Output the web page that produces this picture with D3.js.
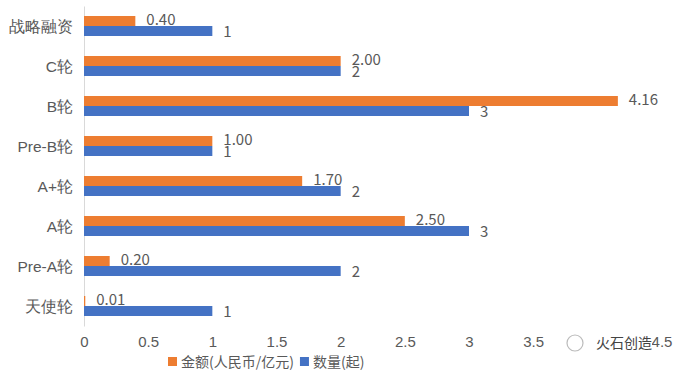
<!DOCTYPE html>
<html><head><meta charset="utf-8">
<script src="https://cdn.jsdelivr.net/npm/d3@7"></script>
<style>body{margin:0;background:#fff}svg{display:block;font-family:"Noto Sans CJK SC","Noto Sans",sans-serif}</style>
</head><body><svg id="c" width="676" height="376"></svg>
<script>
const categories = ["战略融资","C轮","B轮","Pre-B轮","A+轮","A轮","Pre-A轮","天使轮"];
const amounts = [0.40, 2.00, 4.16, 1.00, 1.70, 2.50, 0.20, 0.01];
const counts = [1, 2, 3, 1, 2, 3, 2, 1];
const xTicks = [0, 0.5, 1, 1.5, 2, 2.5, 3, 3.5, 4, 4.5];
const seriesNames = ["金额(人民币/亿元)", "数量(起)"];
const colors = ["#ED7D31", "#4472C4"];

const svg = d3.select("#c");
const x = d3.scaleLinear().domain([0, 4.5]).range([84, 661.5]);
const y = d3.scaleBand().domain(categories).range([6, 326]).paddingInner(0.5).paddingOuter(0.25);
const sub = d3.scaleBand().domain([0,1]).range([0, y.bandwidth()]);
const txt = "#595959";

// axis
const xAxis = svg.append("g").attr("transform","translate(0,342)")
  .call(d3.axisBottom(x).tickValues(xTicks).tickSize(0).tickFormat(d=>d));
xAxis.select(".domain").remove();
xAxis.selectAll("text").attr("fill",txt).attr("font-size",15).attr("dy","0.32em").attr("y",0);

const yAxis = svg.append("g").attr("transform","translate(84,0)")
  .call(d3.axisLeft(y).tickSize(0).tickPadding(11));
yAxis.select(".domain").attr("stroke","#d9d9d9");
yAxis.selectAll("text").attr("fill",txt).attr("font-size",15.5).attr("dy","0.4em");

const rows = svg.append("g").selectAll("g").data(categories).join("g")
  .attr("transform", d => `translate(0,${y(d)})`);
[amounts, counts].forEach((vals, s) => {
  rows.append("rect").attr("x", x(0)).attr("y", sub(s))
    .attr("width", (d,i) => x(vals[i]) - x(0)).attr("height", sub.bandwidth())
    .attr("fill", colors[s]);
  rows.append("text").attr("x", (d,i) => x(vals[i]) + 11)
    .attr("y", sub(s) + sub.bandwidth()/2 + (s===0 ? -1 : 1))
    .attr("dy","0.35em").attr("fill",txt).attr("font-size",15)
    .text((d,i) => s===0 ? vals[i].toFixed(2) : vals[i]);
});

// watermark text over lower right
const wm = svg.append("g");
wm.append("rect").attr("x",592).attr("y",333).attr("width",60).attr("height",20).attr("fill","#fff");
wm.append("circle").attr("cx",575).attr("cy",343).attr("r",8).attr("fill","none").attr("stroke","#bbb").attr("stroke-width",1.2);
wm.append("text").attr("x",596).attr("y",343).attr("dy","0.35em").attr("fill","#444").attr("font-size",14).text("火石创造");

// legend
const lg = svg.append("g").attr("transform","translate(168,362)");
let lx = 0;
seriesNames.forEach((n,i) => {
  lg.append("rect").attr("x",lx).attr("y",-5).attr("width",9).attr("height",9).attr("fill",colors[i]);
  const t = lg.append("text").attr("x",lx+13).attr("y",0).attr("dy","0.35em").attr("fill",txt).attr("font-size",14).text(n);
  lx += 13 + t.node().getComputedTextLength() + 6;
});
</script></body></html>
